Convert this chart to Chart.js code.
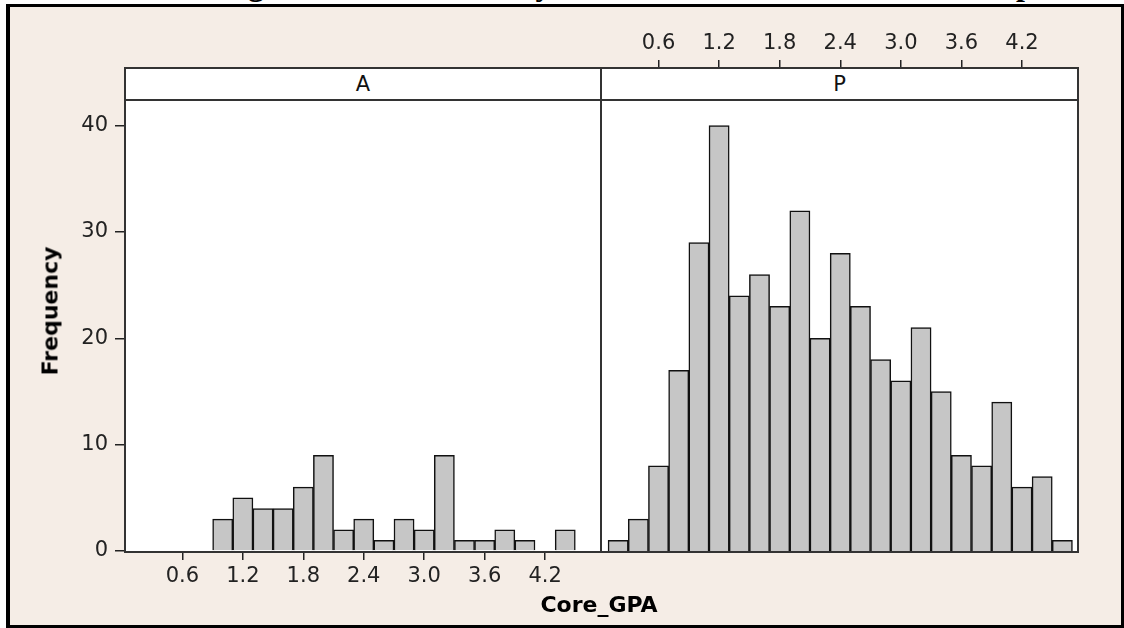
<!DOCTYPE html>
<html>
<head>
<meta charset="utf-8">
<script src="https://cdn.jsdelivr.net/npm/chart.js@4.4.1/dist/chart.umd.min.js"></script>
<style>
  html, body { margin: 0; padding: 0; width: 1124px; height: 628px; overflow: hidden; background: #fff; }
  #page { position: relative; width: 1124px; height: 628px; overflow: hidden; background: #fff; }
  .abs { position: absolute; }
  #title { left: 175px; top: -32px; font: bold 32px "Liberation Serif", serif; line-height: 32px; white-space: nowrap; color: #000; z-index: 0; }
  #frame { left: 6px; top: 4px; width: 1118px; height: 624px; box-sizing: border-box; background: #F5EDE6;
           border: 3px solid #000; border-left-width: 4px; z-index: 1; }
  #plotbg { left: 124px; top: 67px; width: 955px; height: 485px; background: #fff; z-index: 2; }
  .wrap { z-index: 3; }
  .strip { top: 67px; height: 34px; box-sizing: border-box; background: #fff; border: 2px solid #333; z-index: 4;
           font: 21px "DejaVu Sans", sans-serif; color: #111; text-align: center; line-height: 30px; }
  #panelbox { left: 124px; top: 67px; width: 955px; height: 486px; box-sizing: border-box; border: 2px solid #333; z-index: 5; }
  #divider { left: 600px; top: 67px; width: 2px; height: 486px; background: #333; z-index: 5; }
  #ylab { left: 50px; top: 311px; transform: translate(-50%, -50%) rotate(-90deg); font: bold 22px "DejaVu Sans", sans-serif;
          color: #000; white-space: nowrap; z-index: 6; }
  #xlab { left: 599px; top: 604px; transform: translate(-50%, -50%); font: bold 22px "DejaVu Sans", sans-serif;
          color: #000; white-space: nowrap; z-index: 6; }
</style>
</head>
<body>
<div id="page">
  <div id="title" class="abs">Histogram of Core_GPA by Admission Status of Cohort Group</div>
  <div id="frame" class="abs"></div>
  <div id="plotbg" class="abs"></div>
  <div class="abs wrap" style="left:10px;top:60px;width:592px;height:550px;"><canvas id="panelA" width="592" height="550"></canvas></div>
  <div class="abs wrap" style="left:601px;top:0px;width:500px;height:560px;"><canvas id="panelP" width="500" height="560"></canvas></div>
  <div id="stripA" class="abs strip" style="left:124px;width:478px;"></div>
  <div id="stripP" class="abs strip" style="left:600px;width:479px;"></div>
  <div id="panelbox" class="abs"></div>
  <div id="divider" class="abs"></div>
  <div id="ylab" class="abs">Frequency</div>
  <div id="xlab" class="abs">Core_GPA</div>
</div>
<script>
// Histogram bins (bin midpoints) and counts for each group
const gpaBinsA = [1.0, 1.2, 1.4, 1.6, 1.8, 2.0, 2.2, 2.4, 2.6, 2.8, 3.0, 3.2, 3.4, 3.6, 3.8, 4.0, 4.2, 4.4];
const countsA  = [3, 5, 4, 4, 6, 9, 2, 3, 1, 3, 2, 9, 1, 1, 2, 1, 0, 2];

const gpaBinsP = [0.2, 0.4, 0.6, 0.8, 1.0, 1.2, 1.4, 1.6, 1.8, 2.0, 2.2, 2.4, 2.6, 2.8, 3.0, 3.2, 3.4, 3.6, 3.8, 4.0, 4.2, 4.4, 4.6];
const countsP  = [1, 3, 8, 17, 29, 40, 24, 26, 23, 32, 20, 28, 23, 18, 16, 21, 15, 9, 8, 14, 6, 7, 1];

// Axis ticks
const gpaTicks = [0.6, 1.2, 1.8, 2.4, 3.0, 3.6, 4.2];
const gpaTickLabels = ['0.6', '1.2', '1.8', '2.4', '3.0', '3.6', '4.2'];
const freqTicks = [0, 10, 20, 30, 40];

// Panel (group) names
const panelNames = ['A', 'P'];

// Shared ranges
const GPA_MIN = 0.03, GPA_MAX = 4.755;
const FREQ_MAX = 45.42;

document.getElementById('stripA').textContent = panelNames[0];
document.getElementById('stripP').textContent = panelNames[1];

const tickFont = { family: '"DejaVu Sans", sans-serif', size: 21 };
const inkColor = '#222';

function zeroPad(s) { s.paddingLeft = 0; s.paddingRight = 0; s.paddingTop = 0; s.paddingBottom = 0; }

function histogram(canvasId, bins, counts, opt) {
  const points = bins.map((b, i) => ({ x: b, y: counts[i] }));
  return new Chart(document.getElementById(canvasId), {
    type: 'bar',
    data: {
      datasets: [{
        data: points,
        backgroundColor: '#C6C6C6',
        borderColor: '#111',
        borderWidth: 1.5,
        borderSkipped: 'start',
        barPercentage: 1.0,
        categoryPercentage: 1.0
      }]
    },
    options: {
      responsive: false,
      animation: false,
      events: [],
      layout: { padding: opt.padding },
      plugins: { legend: { display: false }, tooltip: { enabled: false } },
      scales: {
        x: {
          type: 'linear',
          position: opt.xPosition,
          min: GPA_MIN,
          max: GPA_MAX,
          offset: false,
          grid: { offset: false, drawOnChartArea: false, drawTicks: true, tickLength: opt.xTickLength,
                  color: inkColor, lineWidth: 1.5 },
          border: { display: false },
          ticks: {
            font: tickFont, color: inkColor, padding: 4, maxRotation: 0, autoSkip: false,
            callback: (v, i) => gpaTickLabels[i]
          },
          afterBuildTicks: s => { s.ticks = gpaTicks.map(v => ({ value: v })); },
          afterFit: s => { s.height = opt.xHeight; zeroPad(s); }
        },
        y: {
          display: opt.showY,
          min: 0,
          max: FREQ_MAX,
          grid: { drawOnChartArea: false, drawTicks: true, tickLength: 10, color: inkColor, lineWidth: 1.5 },
          border: { display: false },
          ticks: { font: tickFont, color: inkColor, padding: 7, callback: v => String(v) },
          afterBuildTicks: s => { s.ticks = freqTicks.map(v => ({ value: v })); },
          afterFit: s => { s.width = opt.showY ? 115 : 0; zeroPad(s); }
        }
      }
    }
  });
}

histogram('panelA', gpaBinsA, countsA, {
  xPosition: 'bottom', xHeight: 59, xTickLength: 9, showY: true,
  padding: { top: 8, right: 1, left: 0, bottom: 0 }
});

histogram('panelP', gpaBinsP, countsP, {
  xPosition: 'top', xHeight: 68, xTickLength: 8, showY: false,
  padding: { top: 0, right: 23, left: 0, bottom: 9 }
});
</script>
</body>
</html>
